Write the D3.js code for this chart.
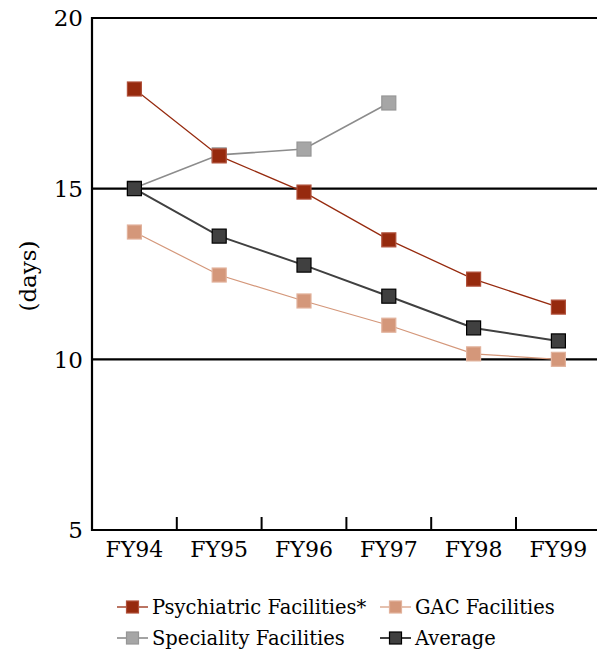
<!DOCTYPE html>
<html lang="en">
<head>
    <meta charset="UTF-8">
    <title>Length of stay</title>
    <script src="https://d3js.org/d3.v7.min.js"></script>
    <style>
        body { margin: 0; background: #fff; }
    </style>
</head>
<body>
    <div id="chart"></div>
    <script>
        // chart data
        var years = ["FY94", "FY95", "FY96", "FY97", "FY98", "FY99"];
        var psychiatric = [17.92, 15.96, 14.9, 13.5, 12.35, 11.53];
        var gac = [13.73, 12.47, 11.71, 11.0, 10.16, 10.0];
        var speciality = [15.02, 15.99, 16.16, 17.51];
        var average = [15.0, 13.61, 12.76, 11.85, 10.92, 10.54];
        var yTicks = [5, 10, 15, 20];

        var W = 597, H = 652;
        var margin = { top: 18, left: 92, bottom: 530 };
        var serif = "'DejaVu Serif', serif";

        var svg = d3.select("#chart").append("svg")
            .attr("width", W)
            .attr("height", H)
            .style("font-family", serif);

        // x scale: one band per year, plot runs a bit past the window edge
        var x = d3.scaleBand()
            .domain(years)
            .range([margin.left, margin.left + 6 * 84.8]);

        var y = d3.scaleLinear()
            .domain([5, 20])
            .range([margin.bottom, margin.top]);

        var cx = function (d, i) { return x(years[i]) + x.bandwidth() / 2; };

        // horizontal grid lines at 10, 15, 20
        svg.append("g").selectAll("line")
            .data(yTicks.filter(function (t) { return t > 5; }))
            .enter().append("line")
            .attr("x1", margin.left).attr("x2", W)
            .attr("y1", function (d) { return y(d); })
            .attr("y2", function (d) { return y(d); })
            .attr("stroke", "#000").attr("stroke-width", 2.2);

        // y axis labels
        svg.append("g").selectAll("text")
            .data(yTicks)
            .enter().append("text")
            .attr("x", margin.left - 9)
            .attr("y", function (d) { return y(d); })
            .attr("dy", "0.36em")
            .attr("text-anchor", "end")
            .style("font-size", "23px")
            .text(function (d) { return d; });

        // left axis line
        svg.append("line")
            .attr("x1", margin.left).attr("x2", margin.left)
            .attr("y1", margin.top - 1).attr("y2", margin.bottom + 1)
            .attr("stroke", "#000").attr("stroke-width", 2.2);

        // bottom axis with inward ticks between categories
        svg.append("line")
            .attr("x1", margin.left - 1).attr("x2", W)
            .attr("y1", margin.bottom).attr("y2", margin.bottom)
            .attr("stroke", "#000").attr("stroke-width", 2.2);

        svg.append("g").selectAll("line")
            .data(years.slice(1))
            .enter().append("line")
            .attr("x1", function (d) { return x(d); })
            .attr("x2", function (d) { return x(d); })
            .attr("y1", margin.bottom - 13).attr("y2", margin.bottom)
            .attr("stroke", "#000").attr("stroke-width", 2);

        svg.append("g").selectAll("text")
            .data(years)
            .enter().append("text")
            .attr("x", function (d) { return x(d) + x.bandwidth() / 2; })
            .attr("y", 557)
            .attr("text-anchor", "middle")
            .style("font-size", "22px")
            .text(function (d) { return d; });

        // y axis title
        svg.append("text")
            .attr("transform", "translate(28," + 276 + ")rotate(-90)")
            .attr("text-anchor", "middle")
            .attr("dy", "0.35em")
            .style("font-size", "23px")
            .text("(days)");

        // series, drawn back to front
        var series = [
            { name: "GAC Facilities", values: gac, line: "#d4977a", fill: "#d4977a", stroke: "#e2b29c", width: 1.2 },
            { name: "Speciality Facilities", values: speciality, line: "#8c8c8c", fill: "#a6a6a6", stroke: "#969696", width: 1.6 },
            { name: "Psychiatric Facilities*", values: psychiatric, line: "#962a0e", fill: "#962a0e", stroke: "#b0503a", width: 1.3 },
            { name: "Average", values: average, line: "#404040", fill: "#404040", stroke: "#000", width: 2 }
        ];

        var line = d3.line()
            .x(cx)
            .y(function (d) { return y(d); });

        var s = 14;
        series.forEach(function (ser) {
            svg.append("path")
                .datum(ser.values)
                .attr("d", line)
                .attr("fill", "none")
                .attr("stroke", ser.line)
                .attr("stroke-width", ser.width);

            svg.append("g").selectAll("rect")
                .data(ser.values)
                .enter().append("rect")
                .attr("x", function (d, i) { return cx(d, i) - s / 2; })
                .attr("y", function (d) { return y(d) - s / 2; })
                .attr("width", s).attr("height", s)
                .attr("fill", ser.fill)
                .attr("stroke", ser.stroke)
                .attr("stroke-width", 1.2);
        });

        // legend
        var legendItems = [
            { s: series[2], x: 117, y: 607 },
            { s: series[0], x: 380, y: 607 },
            { s: series[1], x: 117, y: 638 },
            { s: series[3], x: 380, y: 638 }
        ];

        var lg = svg.append("g").selectAll("g")
            .data(legendItems)
            .enter().append("g")
            .attr("transform", function (d) { return "translate(" + d.x + "," + d.y + ")"; });

        lg.append("line")
            .attr("x1", 0).attr("x2", 31)
            .attr("stroke", function (d) { return d.s.line; })
            .attr("stroke-width", function (d) { return d.s.width; });

        lg.append("rect")
            .attr("x", 9.5).attr("y", -6)
            .attr("width", 12).attr("height", 12)
            .attr("fill", function (d) { return d.s.fill; })
            .attr("stroke", function (d) { return d.s.stroke; })
            .attr("stroke-width", 1.2);

        lg.append("text")
            .attr("x", 35)
            .attr("dy", "0.36em")
            .style("font-size", "19.5px")
            .text(function (d) { return d.s.name; });
    </script>
</body>
</html>
